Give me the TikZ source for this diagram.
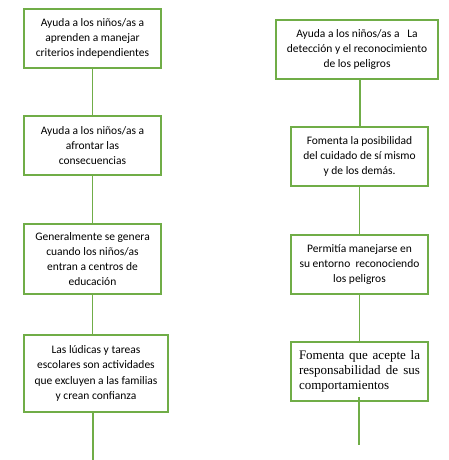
\documentclass[tikz,border=0pt]{standalone}
\usepackage{fontspec}
\setmainfont{Carlito}
\newfontfamily\timesfont{Liberation Serif}
\definecolor{boxgreen}{HTML}{70AD47}
\tikzset{
  flowbox/.style={draw=boxgreen, line width=1.1pt, rectangle, inner sep=0pt,
    align=center, font=\fontsize{11.5}{15.3}\selectfont, text=black},
  link/.style={draw=boxgreen, line width=1.1pt},
}
\begin{document}
\begin{tikzpicture}[x=1pt,y=1pt]
\useasboundingbox (0,0) rectangle (448,-460);
% left column
\node[flowbox, minimum width=137pt, minimum height=59pt] (l1) at (92.5,-38.5)
  {Ayuda a los niños/as a\\aprenden a manejar\\criterios independientes};
\node[flowbox, minimum width=137pt, minimum height=59pt] (l2) at (92.5,-145.5)
  {Ayuda a los niños/as a\\afrontar las\\consecuencias};
\node[flowbox, minimum width=137pt, minimum height=70pt] (l3) at (92.5,-259)
  {Generalmente se genera\\cuando los niños/as\\entran a centros de\\educación};
\node[flowbox, minimum width=144pt, minimum height=77pt] (l4) at (96,-373.5)
  {\raisebox{3pt}{\begin{tabular}{@{}c@{}}Las lúdicas y tareas\\escolares son actividades\\que excluyen a las familias\\y crean confianza\end{tabular}}};
\coordinate (lend) at (93,-460);
\draw[link] (l1.south) -- (l2.north);
\draw[link] (l2.south) -- (l3.north);
\draw[link] (92.5,-294) -- (92.5,-335);
\draw[link] (93,-412) -- (lend);
% right column
\node[flowbox, minimum width=162pt, minimum height=59pt] (r1) at (357,-49.5)
  {\raisebox{2pt}{\begin{tabular}{@{}c@{}}Ayuda a los niños/as a\ \ \ La\\detección y el reconocimiento\\de los peligros\end{tabular}}};
\node[flowbox, minimum width=137pt, minimum height=59pt] (r2) at (359.5,-156.5)
  {Fomenta la posibilidad\\del cuidado de sí mismo\\y de los demás.};
\node[flowbox, minimum width=137pt, minimum height=59pt] (r3) at (359.5,-264.5)
  {Permitía manejarse en\\su entorno\ \ reconociendo\\los peligros};
\node[flowbox, minimum width=137pt, minimum height=59pt, align=left,
      font=\timesfont\fontsize{13}{15.3}\selectfont] (r4) at (359.5,-371.5)
  {\raisebox{2pt}{\begin{tabular}{@{}l@{}}\makebox[121pt][s]{Fomenta que acepte la}\\\makebox[121pt][s]{responsabilidad de sus}\\comportamientos\end{tabular}}};
\coordinate (rend) at (359,-445);
\draw[link] (360,-79) -- (360,-127);
\draw[link] (r2.south) -- (r3.north);
\draw[link] (359.5,-294) -- (359.5,-342);
\draw[link] (359,-397) -- (rend);
\end{tikzpicture}
\end{document}
